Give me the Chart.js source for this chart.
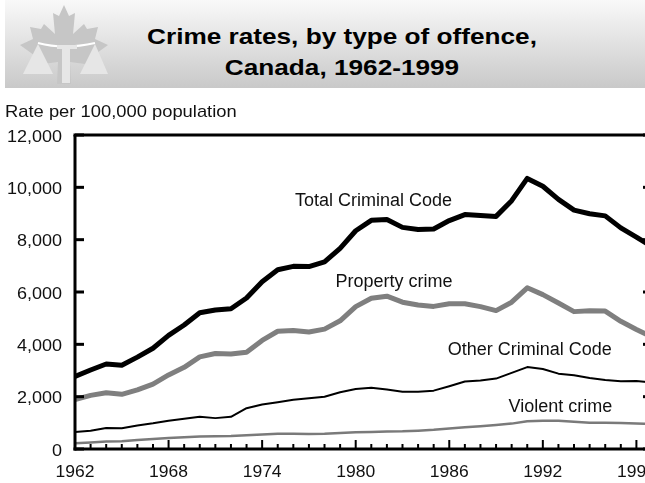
<!DOCTYPE html>
<html>
<head>
<meta charset="utf-8">
<script src="https://cdn.jsdelivr.net/npm/chart.js@4"></script>
<style>
  html, body { margin: 0; padding: 0; background: #fff; overflow: hidden; width: 645px; height: 483px; }
  #head { position: absolute; left: 5px; top: 0; width: 640px; height: 88px;
          background: linear-gradient(#f9f9f9, #c9c9c9); }
  #logo { position: absolute; left: -5px; top: 0; }
  .title { position: absolute; left: 0; width: 674px; text-align: center; font: bold 22px "Liberation Sans", Arial, sans-serif;
           color: #000; transform: scaleX(1.19); transform-origin: 337px 0; }
  #wrap { position: absolute; left: 0; top: 90px; width: 665px; height: 393px; }
</style>
</head>
<body>
<div id="head">
  <svg id="logo" width="120" height="88">
    <polygon fill="#c6c6c6" points="64,5 69,16 75,13 73,34 84,24 87,29 98,27 95,39 108,45 90,58 93,65 70,62 71,84 57,84 58,62 35,65 38,58 20,45 33,39 30,27 41,29 44,24 55,34 53,13 59,16"/>
    <path d="M38,43 Q64,50 95,43" stroke="#fff" stroke-width="2" fill="none"/>
    <polygon fill="#e6e6e6" points="38,44 23,74 53,74"/>
    <polygon fill="#e6e6e6" points="95,44 80,74 108,74"/>
    <rect fill="#e6e6e6" x="57" y="45" width="20" height="4"/>
    <rect fill="#e6e6e6" x="62" y="48" width="8" height="35"/>
  </svg>
  <div class="title" style="top:24px">Crime rates, by type of offence,</div>
  <div class="title" style="top:55px">Canada, 1962-1999</div>
</div>
<div id="wrap"><canvas id="Chart"></canvas></div>
<script>
const years = [1962,1963,1964,1965,1966,1967,1968,1969,1970,1971,1972,1973,1974,1975,1976,1977,1978,1979,1980,
               1981,1982,1983,1984,1985,1986,1987,1988,1989,1990,1991,1992,1993,1994,1995,1996,1997,1998,1999];
const totalCC = [2770,3020,3250,3200,3510,3850,4340,4740,5210,5310,5360,5770,6390,6850,6980,6970,7150,7670,8340,
                 8740,8770,8470,8390,8410,8730,8960,8920,8890,9490,10340,10040,9540,9130,8990,8910,8450,8100,7730];
const property = [1890,2050,2150,2090,2260,2480,2830,3120,3520,3650,3630,3700,4150,4500,4530,4470,4580,4900,5440,
                  5760,5840,5610,5500,5450,5550,5550,5440,5290,5610,6160,5900,5580,5250,5280,5270,4880,4570,4280];
const otherCC = [650,700,800,790,900,980,1080,1160,1230,1180,1230,1560,1700,1790,1880,1940,2000,2170,2290,
                 2340,2270,2190,2190,2230,2400,2580,2620,2690,2910,3130,3060,2880,2820,2710,2640,2590,2600,2540];
const violent = [221,249,284,299,347,381,423,453,481,492,497,524,553,585,584,572,580,610,636,
                 654,671,679,701,735,785,829,868,920,970,1059,1084,1081,1046,1007,1000,990,977,955];
const yTicks = [0,2000,4000,6000,8000,10000,12000];
const xTickLabels = [1962,1968,1974,1980,1986,1992,1998];
const seriesLabels = [
    { text: 'Total Criminal Code', year: 1976.1, value: 9470 },
    { text: 'Property crime', year: 1978.7, value: 6380 },
    { text: 'Other Criminal Code', year: 1985.9, value: 3780 },
    { text: 'Violent crime', year: 1989.8, value: 1600 }
];

const FONT = '"Liberation Sans", Arial, sans-serif';

function txt(ctx, s, x, y, size, align, sx) {
    ctx.save();
    ctx.font = size + 'px ' + FONT;
    ctx.fillStyle = '#111';
    ctx.textBaseline = 'middle';
    ctx.textAlign = align;
    ctx.translate(x, y);
    ctx.scale(sx, 1);
    ctx.fillText(s, 0, 0);
    ctx.restore();
}

function line(ctx, x1, y1, x2, y2, w) {
    ctx.beginPath();
    ctx.lineWidth = w;
    ctx.moveTo(x1, y1);
    ctx.lineTo(x2, y2);
    ctx.stroke();
}

const axesPlugin = {
    id: 'axesPlugin',
    afterDraw(chart) {
        const ctx = chart.ctx;
        const xs = chart.scales.x, ys = chart.scales.y;
        const a = chart.chartArea;
        ctx.save();
        ctx.strokeStyle = '#000';
        ctx.lineCap = 'butt';
        // frame
        line(ctx, a.left - 1.5, a.top, a.right, a.top, 3);
        line(ctx, a.left, a.top, a.left, a.bottom + 1.5, 3);
        line(ctx, a.left - 1.5, a.bottom, a.right, a.bottom, 3);
        line(ctx, a.right, a.top, a.right, a.bottom, 3);
        // y ticks
        yTicks.forEach(v => {
            const y = ys.getPixelForValue(v);
            line(ctx, a.left, y, a.left + 9, y, 3);
            line(ctx, a.right - 9, y, a.right, y, 3);
            txt(ctx, v.toLocaleString('en-US'), 62, y + 2, 17, 'right', 1.06);
        });
        // x ticks
        for (let yr = years[0]; yr <= years[years.length - 1]; yr++) {
            const x = xs.getPixelForValue(yr);
            const major = (yr - 1962) % 6 === 0;
            line(ctx, x, a.bottom, x, a.bottom - (major ? 9 : 5), 2);
        }
        xTickLabels.forEach(v => {
            txt(ctx, String(v), xs.getPixelForValue(v), 382, 17, 'center', 1.03);
        });
        txt(ctx, 'Rate per 100,000 population', 5, 22, 17, 'left', 1.08);
        seriesLabels.forEach(l => {
            txt(ctx, l.text, xs.getPixelForValue(l.year), ys.getPixelForValue(l.value), 18, 'left', 1.0);
        });
        ctx.restore();
    }
};

function pts(values) {
    return years.map((y, i) => ({ x: y, y: values[i] }));
}

function main() {
    const ctx = document.getElementById('Chart');
    new Chart(ctx, {
        type: 'line',
        data: {
            datasets: [
                { label: 'Violent crime', data: pts(violent), borderColor: '#7a7a7a', borderWidth: 2.5 },
                { label: 'Other Criminal Code', data: pts(otherCC), borderColor: '#000', borderWidth: 2 },
                { label: 'Property crime', data: pts(property), borderColor: '#7f7f7f', borderWidth: 5 },
                { label: 'Total Criminal Code', data: pts(totalCC), borderColor: '#000', borderWidth: 5 }
            ]
        },
        options: {
            responsive: true,
            maintainAspectRatio: false,
            animation: false,
            elements: {
                point: { radius: 0 },
                line: { tension: 0, borderJoinStyle: 'round', borderCapStyle: 'round', fill: false }
            },
            layout: { padding: { left: 75, right: 13, top: 45, bottom: 34 } },
            plugins: { legend: { display: false }, tooltip: { enabled: false } },
            scales: {
                x: { type: 'linear', min: 1962, max: 1999, display: false },
                y: { min: 0, max: 12000, display: false }
            }
        },
        plugins: [axesPlugin]
    });
}
main();
</script>
</body>
</html>
